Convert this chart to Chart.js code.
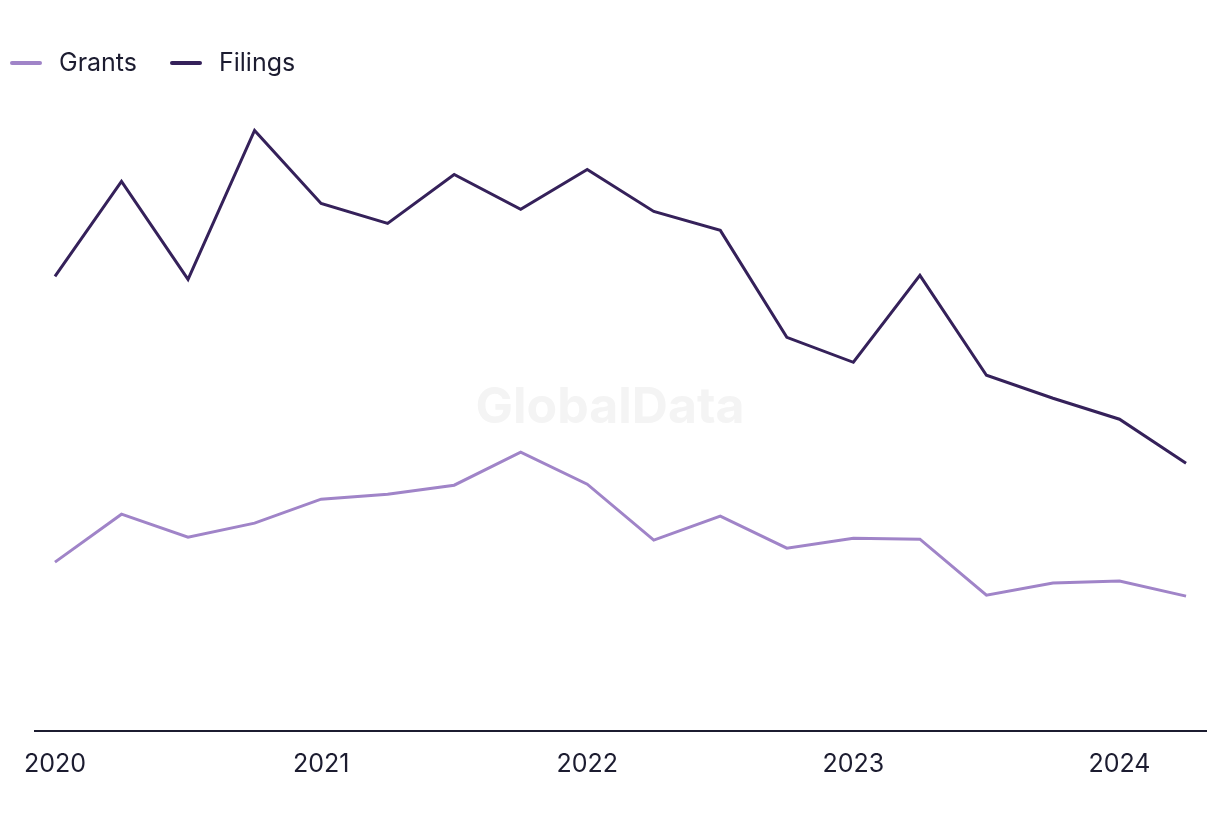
<!DOCTYPE html>
<html>
<head>
<meta charset="utf-8">
<script src="https://cdn.jsdelivr.net/npm/chart.js@4.4.1/dist/chart.umd.min.js"></script>
<style>
  html, body { margin: 0; padding: 0; background: #ffffff; }
  #wrap { width: 1220px; height: 820px; position: relative; }
</style>
</head>
<body>
<div id="wrap"><canvas id="c" width="1220" height="820"></canvas></div>
<script>
// Quarterly points, 2020 Q1 .. 2024 Q2
const quarters = ["2020 Q1","2020 Q2","2020 Q3","2020 Q4","2021 Q1","2021 Q2","2021 Q3","2021 Q4","2022 Q1","2022 Q2","2022 Q3","2022 Q4","2023 Q1","2023 Q2","2023 Q3","2023 Q4","2024 Q1","2024 Q2"];
const filings = [455, 550, 452, 601, 528, 508, 557, 522, 562, 520, 501, 394, 369, 456, 356, 333, 312, 268];
const grants  = [169, 217, 194, 208, 232, 237, 246, 279, 247, 191, 215, 183, 193, 192, 136, 148, 150, 135];
const yearTicks = [0, 4, 8, 12, 16];
const yearLabels = ["2020", "2021", "2022", "2023", "2024"];

const GRANT_COLOR = "#a084c8";
const FILING_COLOR = "#35215a";
const TEXT_COLOR = "#1c1c30";
const FONT = "Inter, 'Noto Sans', sans-serif";

function markerCanvas(color) {
  const cv = document.createElement("canvas");
  cv.width = 32; cv.height = 6;
  const g = cv.getContext("2d");
  g.strokeStyle = color;
  g.lineWidth = 4;
  g.lineCap = "round";
  g.beginPath(); g.moveTo(2, 3); g.lineTo(30, 3); g.stroke();
  return cv;
}

const toXY = arr => arr.map((v, i) => ({ x: i, y: v }));

const watermark = {
  id: "watermark",
  beforeDatasetsDraw(chart) {
    const { ctx } = chart;
    ctx.save();
    ctx.font = "bold 50px " + FONT;
    ctx.fillStyle = "#f4f4f4";
    ctx.textAlign = "center";
    ctx.textBaseline = "middle";
    ctx.fillText("GlobalData", 610, 408);
    ctx.restore();
  }
};

// shift the legend block to the left edge of the canvas
const legendShift = {
  id: "legendShift",
  afterLayout(chart) {
    if (chart.legend) {
      const w = chart.legend.right - chart.legend.left;
      chart.legend.left = -23;
      chart.legend.right = chart.legend.left + w;
    }
  }
};

new Chart(document.getElementById("c"), {
  type: "line",
  data: {
    datasets: [
      { label: "Grants", data: toXY(grants), borderColor: GRANT_COLOR, backgroundColor: GRANT_COLOR,
        borderWidth: 3, pointRadius: 0, tension: 0, pointStyle: markerCanvas(GRANT_COLOR) },
      { label: "Filings", data: toXY(filings), borderColor: FILING_COLOR, backgroundColor: FILING_COLOR,
        borderWidth: 3, pointRadius: 0, tension: 0, pointStyle: markerCanvas(FILING_COLOR) }
    ]
  },
  options: {
    responsive: false,
    animation: false,
    layout: { padding: { left: 35, right: 14, top: 22, bottom: 23 } },
    plugins: {
      legend: {
        position: "top",
        align: "start",
        labels: {
          usePointStyle: true,
          pointStyleWidth: 41,
          boxHeight: 6,
          padding: 28.5,
          color: TEXT_COLOR,
          font: { family: FONT, size: 25 }
        }
      },
      tooltip: { enabled: false }
    },
    scales: {
      x: {
        type: "linear",
        min: -0.3,
        max: 17.3,
        grid: { display: false, drawTicks: false },
        border: { display: true, color: TEXT_COLOR, width: 2 },
        afterBuildTicks(axis) { axis.ticks = yearTicks.map(v => ({ value: v })); },
        ticks: {
          autoSkip: false,
          maxRotation: 0,
          padding: 18,
          color: TEXT_COLOR,
          font: { family: FONT, size: 25 },
          callback: v => yearLabels[yearTicks.indexOf(v)]
        }
      },
      y: {
        display: false,
        min: 0,
        max: 646
      }
    }
  },
  plugins: [watermark, legendShift]
});
</script>
</body>
</html>
